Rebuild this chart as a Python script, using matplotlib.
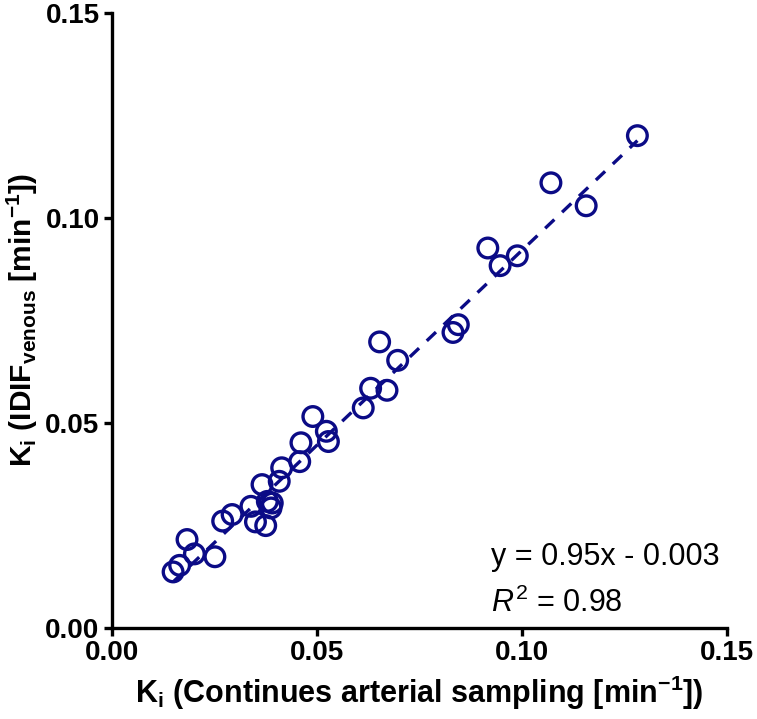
#!/usr/bin/env python3
"""Ki from venous IDIF vs continuous arterial sampling - scatter with regression line."""

import numpy as np
import matplotlib
matplotlib.use("Agg")
import matplotlib.pyplot as plt

plt.rcParams['font.family'] = ['Liberation Sans', 'DejaVu Sans']
plt.rcParams['mathtext.fontset'] = 'custom'
plt.rcParams['mathtext.rm'] = 'Liberation Sans'
plt.rcParams['mathtext.bf'] = 'Liberation Sans:bold'
plt.rcParams['mathtext.it'] = 'Liberation Sans:italic'

# Data (Ki, min^-1)
ki_arterial = [0.0149, 0.0165, 0.0183, 0.0201, 0.0251, 0.0270, 0.0293, 0.0339,
               0.0350, 0.0366, 0.0375, 0.0379, 0.0391, 0.0388, 0.0408, 0.0414,
               0.0458, 0.0461, 0.0490, 0.0523, 0.0528, 0.0613, 0.0631, 0.0653,
               0.0671, 0.0697, 0.0832, 0.0845, 0.0917, 0.0947, 0.0989, 0.1071,
               0.1157, 0.1282]
ki_venous = [0.0136, 0.0152, 0.0215, 0.0180, 0.0173, 0.0260, 0.0276, 0.0296,
             0.0258, 0.0349, 0.0249, 0.0308, 0.0304, 0.0292, 0.0357, 0.0390,
             0.0405, 0.0451, 0.0515, 0.0479, 0.0454, 0.0536, 0.0584, 0.0697,
             0.0579, 0.0652, 0.0720, 0.0739, 0.0926, 0.0883, 0.0907, 0.1085,
             0.1029, 0.1200]

# Regression reported on the chart
slope = 0.95
intercept = -0.003
r_squared = 0.98

ticks = [0.00, 0.05, 0.10, 0.15]
color = '#0b0b86'

fig = plt.figure(figsize=(7.57, 7.19), dpi=100)
ax = fig.add_axes([0.148, 0.127, 0.812, 0.8554])

x_fit = np.array([min(ki_arterial), max(ki_arterial)])
ax.plot(x_fit, slope * x_fit + intercept, color=color, lw=2.4,
        dashes=(3.8, 3.2), zorder=2)
ax.scatter(ki_arterial, ki_venous, s=200, facecolors='none', edgecolors=color,
           linewidths=2.4, zorder=3)

ax.set_xlim(0, 0.15)
ax.set_ylim(0, 0.15)
ax.set_xticks(ticks)
ax.set_yticks(ticks)
ax.set_xticklabels([f"{t:.2f}" for t in ticks], fontweight='bold', fontsize=20)
ax.set_yticklabels([f"{t:.2f}" for t in ticks], fontweight='bold', fontsize=20)

for side in ['top', 'right']:
    ax.spines[side].set_visible(False)
for side in ['left', 'bottom']:
    ax.spines[side].set_linewidth(2.4)
ax.tick_params(direction='out', length=6, width=2.4, pad=3)

ax.set_xlabel(r'$\mathbf{K}_\mathbf{i}$ (Continues arterial sampling [min$^{\mathbf{-1}}$])',
              fontweight='bold', fontsize=22)
ax.set_ylabel(r'$\mathbf{K}_\mathbf{i}$ (IDIF$_{\mathbf{venous}}$ [min$^{\mathbf{-1}}$])',
              fontweight='bold', fontsize=21.5)
ax.xaxis.set_label_coords(0.5, -0.075)
ax.yaxis.set_label_coords(-0.118, 0.5)

ax.text(0.0925, 0.0152, f"y = {slope:.2f}x - {abs(intercept):.3f}",
        fontsize=22, ha='left', va='baseline')
ax.text(0.0925, 0.0038, f"$R^2$ = {r_squared:.2f}",
        fontsize=22, ha='left', va='baseline')

fig.savefig('out.png', dpi=100)
